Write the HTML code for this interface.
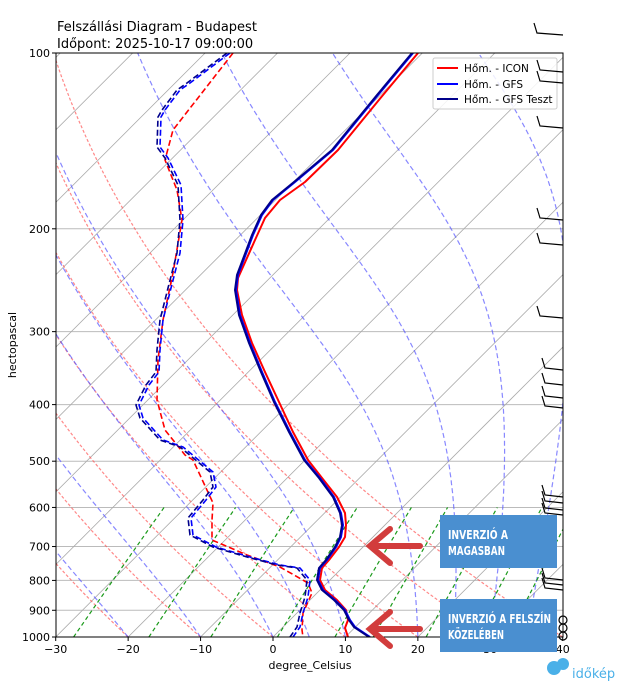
<!DOCTYPE html>
<html><head><meta charset="utf-8"><style>
body{margin:0;background:#fff;width:622px;height:692px;overflow:hidden;font-family:"Liberation Sans","DejaVu Sans",sans-serif}
svg text{font-family:"DejaVu Sans","Liberation Sans",sans-serif}
</style></head><body>
<svg id="s" width="622" height="692" viewBox="0 0 622 692" xmlns="http://www.w3.org/2000/svg">
<defs><clipPath id="c"><rect x="56" y="53" width="507" height="584"/></clipPath></defs>
<g id="grid" clip-path="url(#c)"></g>
<g id="data" clip-path="url(#c)"></g>
<rect x="56" y="53" width="507" height="584" fill="none" stroke="#000" stroke-width="1"/>
<g id="ax" font-size="11"></g>
<text x="57" y="31" font-size="13">Felszállási Diagram - Budapest</text>
<text x="57" y="48" font-size="13">Időpont: 2025-10-17 09:00:00</text>
<text x="310" y="669" font-size="11" text-anchor="middle">degree_Celsius</text>
<text transform="translate(16,345) rotate(-90)" font-size="11" text-anchor="middle">hectopascal</text>
<g>
<rect x="433" y="58" width="124" height="51" fill="#fff" fill-opacity="0.85" stroke="#ccc" rx="2"/>
<line x1="437" y1="68" x2="458" y2="68" stroke="#f00" stroke-width="2"/>
<text x="464" y="72" font-size="10.5">Hőm. - ICON</text>
<line x1="437" y1="84" x2="458" y2="84" stroke="#00f" stroke-width="2"/>
<text x="464" y="88" font-size="10.5">Hőm. - GFS</text>
<line x1="437" y1="99" x2="458" y2="99" stroke="#00008b" stroke-width="2"/>
<text x="464" y="103" font-size="10.5">Hőm. - GFS Teszt</text>
</g>
<g id="barbs" stroke="#000" stroke-width="1.2" fill="none"></g>
<rect x="440" y="515" width="117" height="53" fill="#4a8fd0"/>
<text x="448" y="539" font-size="12" font-weight="bold" fill="#fff" textLength="60" lengthAdjust="spacingAndGlyphs">INVERZIÓ A</text>
<text x="448" y="555" font-size="12" font-weight="bold" fill="#fff" textLength="57" lengthAdjust="spacingAndGlyphs">MAGASBAN</text>
<rect x="440" y="599" width="117" height="53" fill="#4a8fd0"/>
<text x="448" y="623" font-size="12" font-weight="bold" fill="#fff" textLength="103" lengthAdjust="spacingAndGlyphs">INVERZIÓ A FELSZÍN</text>
<text x="448" y="639" font-size="12" font-weight="bold" fill="#fff" textLength="56" lengthAdjust="spacingAndGlyphs">KÖZELÉBEN</text>
<g stroke="#d23c3c" stroke-width="6" stroke-linecap="round" fill="none">
<line x1="372" y1="546" x2="420" y2="546"/><polyline points="390,529 370,546 390,563"/>
<line x1="372" y1="629" x2="420" y2="629"/><polyline points="390,612 370,629 390,646"/>
</g>
<g fill="#4ab0e8">
<circle cx="554" cy="668" r="7"/><circle cx="563" cy="664" r="6"/>
<text x="572" y="678" font-size="13" fill="#4ab0e8">időkép</text>
</g>
</svg>
<script>
var NS="http://www.w3.org/2000/svg";
function X(T,y){return 273+T*7.243+(637-y);}
function Y(p){return 53+584*Math.log10(p/100);}
function el(g,tag,a){var e=document.createElementNS(NS,tag);for(var k in a)e.setAttribute(k,a[k]);document.getElementById(g).appendChild(e);return e;}
for(var p=100;p<=1000;p+=100){el("grid","line",{x1:56,x2:563,y1:Y(p),y2:Y(p),stroke:"#bbb","stroke-width":1});}
for(var T=-120;T<=40;T+=10){var y1=637,y2=53;el("grid","line",{x1:X(T,y1),y1:y1,x2:X(T,y2),y2:y2,stroke:"#aaa","stroke-width":0.8});}
for(var t0=-30;t0<=40;t0+=10){var pts=[];for(var p=1000;p>=100;p-=10){var T=(t0+273.15)*Math.pow(p/1000,0.2857)-273.15;var y=Y(p);pts.push(X(T,y).toFixed(1)+","+y.toFixed(1));}
el("grid","polyline",{points:pts.join(" "),fill:"none",stroke:"#f55","stroke-opacity":0.7,"stroke-width":1.2,"stroke-dasharray":"3,2"});}
function es(t){return 6.112*Math.exp(17.67*t/(t+243.5));}
function dTdp(p,T){var Tk=T+273.15,e=es(T),rs=0.622*e/(p-e),Lv=2.501e6,Rd=287,Cp=1005;return (1/p)*(Rd*Tk+Lv*rs)/(Cp+Lv*Lv*rs*0.622/(Rd*Tk*Tk));}
var m0=[-20,-10,0,5,10,20,25,30,35];
m0.forEach(function(t0){var T=t0,pts=[];for(var p=1000;p>=100;p-=5){var y=Y(p);pts.push(X(T,y).toFixed(1)+","+y.toFixed(1));var k1=dTdp(p,T),k2=dTdp(p-2.5,T-2.5*k1);T-=5*k2;}
el("grid","polyline",{points:pts.join(" "),fill:"none",stroke:"#55f","stroke-opacity":0.7,"stroke-width":1.2,"stroke-dasharray":"5,3"});});
[0.0004,0.001,0.002,0.004,0.007,0.01,0.016,0.024,0.032].forEach(function(w){var pts=[];for(var p=1000;p>=600;p-=20){var e=p*w/(0.622+w);var l=Math.log(e/6.112);var Td=243.5*l/(17.67-l);var y=Y(p);pts.push(X(Td,y).toFixed(1)+","+y.toFixed(1));}
el("grid","polyline",{points:pts.join(" "),fill:"none",stroke:"#1a9a1a","stroke-width":1.2,"stroke-dasharray":"4,3"});});
function line(pts,col,dash,w,dx){el("data","polyline",{points:pts.map(function(a){return (a[0]+(dx||0))+","+a[1]}).join(" "),fill:"none",stroke:col,"stroke-width":w,"stroke-dasharray":dash||"none","stroke-linejoin":"round"});}
var Tr=[[418,53],[383,95],[338,150],[305,182],[280,200],[265,218],[255,240],[238,278],[237,290],[242,315],[252,343],[265,372],[279,402],[293,432],[308,460],[322,478],[337,497],[345,513],[346,525],[345,537],[339,547],[329,560],[322,568],[320,580],[325,590],[337,600],[346,610],[348,620],[345,628],[348,637]];
var Tb=[[413,53],[378,95],[333,150],[295,182],[273,200],[262,215],[253,235],[238,275],[236,290],[240,315],[250,343],[262,372],[275,402],[290,432],[305,460],[320,478],[334,497],[341,513],[343,525],[341,537],[336,547],[327,560],[320,568],[318,580],[323,590],[335,600],[345,610],[350,620],[355,627],[370,637]];
var Db=[[227,53],[187,83],[177,90],[162,110],[158,117],[157,147],[165,158],[178,185],[180,220],[177,253],[168,288],[160,320],[157,350],[156,372],[146,385],[136,405],[140,418],[160,440],[180,447],[210,472],[213,487],[203,500],[188,518],[190,535],[213,547],[247,557],[277,565],[297,568],[307,580],[305,597],[300,613],[297,627],[290,637]];
var Dr=[[233,53],[173,130],[165,160],[177,190],[182,220],[173,273],[163,320],[158,360],[157,400],[165,430],[185,455],[193,460],[213,503],[212,520],[212,540],[247,555],[280,567],[308,583],[312,593],[303,613],[302,630],[303,637]];
line(Dr,"#f00","6,3",1.6);
line(Db,"#00f","6,3",1.6,3);
line(Db,"#00008b","6,3",1.6);
line(Tr,"#f00",null,2);
line(Tb,"#00f",null,2);
line(Tb,"#00008b",null,2,-1);
for(var p=100;p<=1000;p+=100){var y=Y(p);el("ax","line",{x1:52,x2:56,y1:y,y2:y,stroke:"#000"});var t=el("ax","text",{x:50,y:y+4,"text-anchor":"end"});t.textContent=p;}
for(var T=-30;T<=40;T+=10){var x=X(T,637);el("ax","line",{x1:x,x2:x,y1:637,y2:641,stroke:"#000"});var t=el("ax","text",{x:x,y:653,"text-anchor":"middle"});t.textContent=(T<0?"\u2212"+(-T):T);}
[[35,537],[72,540],[83,540],[128,540],[220,540],[245,540],[318,540],[370,545],[385,545],[398,545],[408,545],[497,545],[503,545],[510,545],[515,545],[580,545],[585,545],[590,545]].forEach(function(b){var y=b[0];el("barbs","polyline",{points:"563,"+y+" "+b[1]+","+(y-2)+" "+(b[1]-3)+","+(y-12)});});
[620,628,636].forEach(function(y){el("barbs","circle",{cx:563,cy:y,r:4});});
</script>
</body></html>
